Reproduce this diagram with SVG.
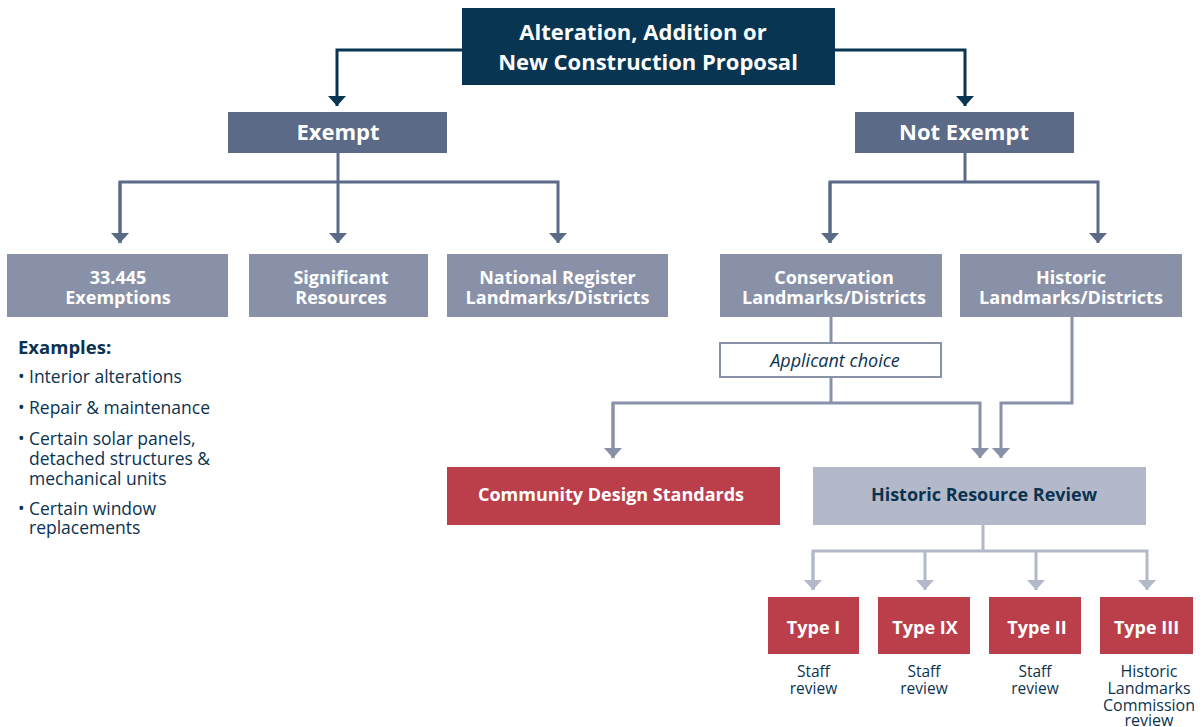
<svg xmlns="http://www.w3.org/2000/svg" width="1204" height="727" viewBox="0 0 1204 727">
<style>
.t{font-family:"Open Sans","Liberation Sans",sans-serif;text-anchor:middle}
.w{fill:#ffffff;font-weight:700}
.n{fill:#0b3350}
.c{fill:none;stroke-width:3}
.ex{font-family:"Open Sans","Liberation Sans",sans-serif;font-size:17.5px;fill:#0b3350}
</style>
<defs>
<marker id="aN" markerUnits="userSpaceOnUse" markerWidth="11" markerHeight="20" refX="10" refY="9" orient="auto"><path d="M0,0 L10,9 L0,18 z" fill="#073552"/></marker>
<marker id="aS" markerUnits="userSpaceOnUse" markerWidth="11" markerHeight="20" refX="10" refY="9" orient="auto"><path d="M0,0 L10,9 L0,18 z" fill="#5a6a87"/></marker>
<marker id="aG" markerUnits="userSpaceOnUse" markerWidth="11" markerHeight="20" refX="10" refY="9" orient="auto"><path d="M0,0 L10,9 L0,18 z" fill="#8891a8"/></marker>
<marker id="aL" markerUnits="userSpaceOnUse" markerWidth="11" markerHeight="20" refX="10" refY="9" orient="auto"><path d="M0,0 L10,9 L0,18 z" fill="#b3b9c8"/></marker>
</defs>
<rect width="1204" height="727" fill="#ffffff"/>
<g id="connectors">
<path class="c" stroke="#073552" d="M462,50 H337 V106" marker-end="url(#aN)"/>
<path class="c" stroke="#073552" d="M835,50 H965 V106" marker-end="url(#aN)"/>
<path class="c" stroke="#5a6a87" d="M338,153 V182"/>
<path class="c" stroke="#5a6a87" d="M120,243 V182 H558 V243" marker-end="url(#aS)"/>
<path class="c" stroke="#5a6a87" d="M120,182 V243" marker-end="url(#aS)"/>
<path class="c" stroke="#5a6a87" d="M338,182 V243" marker-end="url(#aS)"/>
<path class="c" stroke="#5a6a87" d="M965,153 V182"/>
<path class="c" stroke="#5a6a87" d="M830,243 V182 H1098 V243" marker-end="url(#aS)"/>
<path class="c" stroke="#5a6a87" d="M830,182 V243" marker-end="url(#aS)"/>
<path class="c" stroke="#8891a8" d="M831,317 V343"/>
<path class="c" stroke="#8891a8" d="M831,377 V403"/>
<path class="c" stroke="#8891a8" d="M613,458 V403 H980 V458" marker-end="url(#aG)"/>
<path class="c" stroke="#8891a8" d="M613,403 V458" marker-end="url(#aG)"/>
<path class="c" stroke="#8891a8" d="M1072,317 V403 H1001 V458" marker-end="url(#aG)"/>
<path class="c" stroke="#b3b9c8" d="M983,525 V551"/>
<path class="c" stroke="#b3b9c8" d="M813,590 V551 H1147 V590" marker-end="url(#aL)"/>
<path class="c" stroke="#b3b9c8" d="M813,551 V590" marker-end="url(#aL)"/>
<path class="c" stroke="#b3b9c8" d="M925,551 V590" marker-end="url(#aL)"/>
<path class="c" stroke="#b3b9c8" d="M1036,551 V590" marker-end="url(#aL)"/>
</g>
<g id="proposal">
<rect x="462" y="8" width="373" height="77" fill="#073552"/>
<text class="t w" x="643" y="40" font-size="22">Alteration, Addition or</text>
<text class="t w" x="648" y="70" font-size="22">New Construction Proposal</text>
</g>
<g id="exempt">
<rect x="228" y="112" width="219" height="41" fill="#5a6a87"/>
<text class="t w" x="338" y="140" font-size="22">Exempt</text>
</g>
<g id="not-exempt">
<rect x="855" y="112" width="219" height="41" fill="#5a6a87"/>
<text class="t w" x="964" y="140" font-size="22">Not Exempt</text>
</g>
<g id="exemptions">
<rect x="7" y="254" width="221" height="63" fill="#8891a8"/>
<text class="t w" x="118" y="284" font-size="18">33.445</text>
<text class="t w" x="118" y="304" font-size="18">Exemptions</text>
</g>
<g id="significant">
<rect x="249" y="254" width="179" height="63" fill="#8891a8"/>
<text class="t w" x="341" y="284" font-size="18">Significant</text>
<text class="t w" x="341" y="304" font-size="18">Resources</text>
</g>
<g id="national">
<rect x="447" y="254" width="221" height="63" fill="#8891a8"/>
<text class="t w" x="557.5" y="284" font-size="18">National Register</text>
<text class="t w" x="557.5" y="304" font-size="18">Landmarks/Districts</text>
</g>
<g id="conservation">
<rect x="720" y="254" width="222" height="63" fill="#8891a8"/>
<text class="t w" x="834" y="284" font-size="18">Conservation</text>
<text class="t w" x="834" y="304" font-size="18">Landmarks/Districts</text>
</g>
<g id="historic">
<rect x="960" y="254" width="222" height="63" fill="#8891a8"/>
<text class="t w" x="1071" y="284" font-size="18">Historic</text>
<text class="t w" x="1071" y="304" font-size="18">Landmarks/Districts</text>
</g>
<g id="examples">
<text x="18" y="354" font-family="Open Sans, Liberation Sans, sans-serif" font-size="18.5" font-weight="700" fill="#0b3350">Examples:</text>
<text class="ex" x="18" y="383" font-size="13">•</text>
<text class="ex" x="29" y="383">Interior alterations</text>
<text class="ex" x="18" y="414" font-size="13">•</text>
<text class="ex" x="29" y="414">Repair &amp; maintenance</text>
<text class="ex" x="18" y="445" font-size="13">•</text>
<text class="ex" x="29" y="445">Certain solar panels,</text>
<text class="ex" x="29" y="465">detached structures &amp;</text>
<text class="ex" x="29" y="485">mechanical units</text>
<text class="ex" x="18" y="515" font-size="13">•</text>
<text class="ex" x="29" y="515">Certain window</text>
<text class="ex" x="29" y="534">replacements</text>
</g>
<g id="applicant-choice">
<rect x="720" y="343" width="221" height="34" fill="#ffffff" stroke="#8891a8" stroke-width="2"/>
<text class="t n" x="835" y="367" font-size="18" font-style="italic">Applicant choice</text>
</g>
<g id="community">
<rect x="447" y="467" width="333" height="58" fill="#bb3f4b"/>
<text class="t w" x="611" y="501" font-size="18">Community Design Standards</text>
</g>
<g id="hrr">
<rect x="813" y="467" width="333" height="58" fill="#b3b9c8"/>
<text class="t n" x="984" y="501" font-size="18" font-weight="700">Historic Resource Review</text>
</g>
<g id="type1">
<rect x="768" y="597" width="91" height="57" fill="#bb3f4b"/>
<text class="t w" x="813.5" y="634" font-size="18">Type I</text>
<text class="t n" x="813.5" y="677" font-size="15.5">Staff</text>
<text class="t n" x="813.5" y="694" font-size="15.5">review</text>
</g>
<g id="type9">
<rect x="878" y="597" width="92" height="57" fill="#bb3f4b"/>
<text class="t w" x="925" y="634" font-size="18">Type IX</text>
<text class="t n" x="924" y="677" font-size="15.5">Staff</text>
<text class="t n" x="924" y="694" font-size="15.5">review</text>
</g>
<g id="type2">
<rect x="989" y="597" width="92" height="57" fill="#bb3f4b"/>
<text class="t w" x="1037" y="634" font-size="18">Type II</text>
<text class="t n" x="1035" y="677" font-size="15.5">Staff</text>
<text class="t n" x="1035" y="694" font-size="15.5">review</text>
</g>
<g id="type3">
<rect x="1100" y="597" width="93" height="57" fill="#bb3f4b"/>
<text class="t w" x="1146.5" y="634" font-size="18">Type III</text>
<text class="t n" x="1149" y="677" font-size="16">Historic</text>
<text class="t n" x="1149" y="694" font-size="16">Landmarks</text>
<text class="t n" x="1149" y="711" font-size="16">Commission</text>
<text class="t n" x="1149" y="726" font-size="16">review</text>
</g>
</svg>
